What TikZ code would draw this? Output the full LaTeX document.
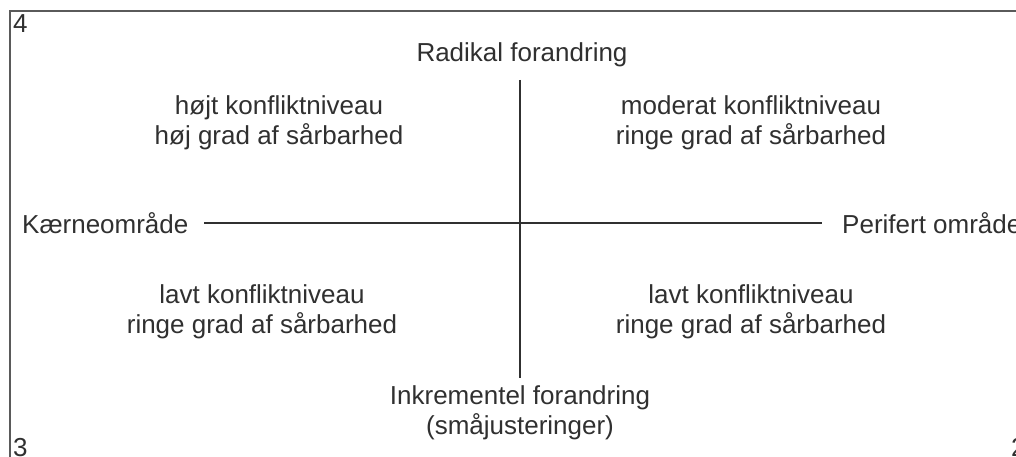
\documentclass[tikz,border=0pt]{standalone}
\usepackage{fontspec}
\setmainfont{Liberation Sans}
\definecolor{ink}{HTML}{303030}
\definecolor{framec}{HTML}{5A5A5A}
\begin{document}
\begin{tikzpicture}[x=1pt,y=-1pt,
  lbl/.style={inner sep=0pt, text=ink, font=\fontsize{26}{30}\selectfont, align=center, anchor=base},
  axis/.style={draw=ink, line width=1.3pt},
  frame/.style={draw=framec, line width=2pt}]
\useasboundingbox (0,0) rectangle (1016,457);
% frame
\coordinate (fbl) at (10,470);
\coordinate (ftl) at (10,11);
\coordinate (ftr) at (1030,11);
\draw[frame] (fbl) -- (ftl) -- (ftr);
% corner numbers
\node[lbl, anchor=base west] (n4) at (13,33) {4};
\node[lbl, anchor=base west] (n3) at (13,456) {3};
\node[lbl, anchor=base west] (n2) at (1011,456) {2};
% axes
\coordinate (vt) at (520,80);
\coordinate (vb) at (520,378);
\coordinate (hl) at (204,223);
\coordinate (hr) at (822,223);
\draw[axis] (vt) -- (vb);
\draw[axis] (hl) -- (hr);
% labels
\node[lbl] (top) at (522,62) {Radikal forandring};
\node[lbl] (bot) at (520,434) {Inkrementel forandring\\(småjusteringer)};
\node[lbl, anchor=base west] (left) at (22,233) {Kærneområde};
\node[lbl, anchor=base west] (right) at (842,233) {Perifert område};
\node[lbl] (q2) at (279,145) {højt konfliktniveau\\høj grad af sårbarhed};
\node[lbl] (q1) at (751,145) {moderat konfliktniveau\\ringe grad af sårbarhed};
\node[lbl] (q3) at (262,333) {lavt konfliktniveau\\ringe grad af sårbarhed};
\node[lbl] (q4) at (751,333) {lavt konfliktniveau\\ringe grad af sårbarhed};
\end{tikzpicture}
\end{document}
